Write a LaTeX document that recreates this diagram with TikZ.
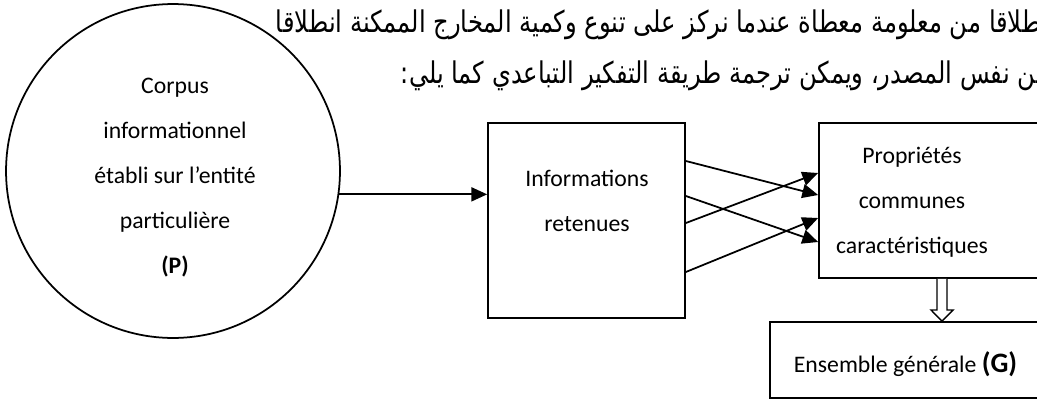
\documentclass[tikz,border=0pt]{standalone}
\usepackage{fontspec}
\setmainfont{Carlito}
\newfontfamily\arabicfont[Script=Arabic]{DejaVu Sans}
\TeXXeTstate=1
\usetikzlibrary{positioning,arrows.meta}

\begin{document}
\begin{tikzpicture}[x=0.02cm,y=-0.02cm,line width=1pt,
  box/.style={draw,rectangle,inner sep=0pt},
  txt/.style={align=center,inner sep=0pt,font=\fontsize{13.5pt}{25.6pt}\selectfont},
  artxt/.style={anchor=base west,inner sep=0pt,font=\arabicfont\fontsize{17pt}{17pt}\selectfont},
  tip/.style={-{Triangle[length=9pt,width=8pt]}}]
\useasboundingbox (0,0) rectangle (1037,399);
\clip (0,0) rectangle (1037,399);
% texte arabe
\node[artxt] (ar1) at (275,32) {\scalebox{0.81}[1]{\beginR انطلاقا من معلومة معطاة عندما نركز على تنوع وكمية المخارج الممكنة انطلاقا\endR}};
\node[artxt] (ar2) at (400,83) {\scalebox{0.81}[1]{\beginR من نفس المصدر، ويمكن ترجمة طريقة التفكير التباعدي كما يلي:\endR}};
% corpus
\node[circle,draw,fill=white,minimum size=6.68cm,inner sep=0pt] (corpus) at (173,171) {};
\node[txt] (corptxt) at (175,178) {Corpus\\informationnel\\établi sur l’entité\\particulière\\\textbf{(P)}};
% boites
\node[box,minimum width=3.94cm,minimum height=3.9cm] (info) at (586.5,220.5) {};
\node[txt] (infotxt) at (587,201) {Informations\\retenues};
\node[box,minimum width=4.82cm,minimum height=3.1cm] (prop) at (939.5,200.5) {};
\node[txt] (proptxt) at (912,202) {Propriétés\\communes\\caractéristiques};
\node[box,minimum width=5.8cm,minimum height=1.52cm] (ens) at (915,360) {};
\node[txt,anchor=west] (enstxt) at (793,364) {Ensemble générale {\fontsize{16pt}{16pt}\selectfont\textbf{(G)}}};
% fleches
\draw[tip] (corpus.-8.3) -- (corpus.-8.3 -| info.west);
\foreach \a/\b in {161/195,196/242,223/173,272/218}
  \draw[tip] (info.east |- 0,\a) -- (prop.west |- 0,\b);
\draw[fill=white,line width=0.8pt] (prop.south -| 937,0) -- (937,310) -- (931,310)
  -- (ens.north -| 942,0) -- (953,310) -- (947,310) -- (prop.south -| 947,0);
\end{tikzpicture}
\end{document}
